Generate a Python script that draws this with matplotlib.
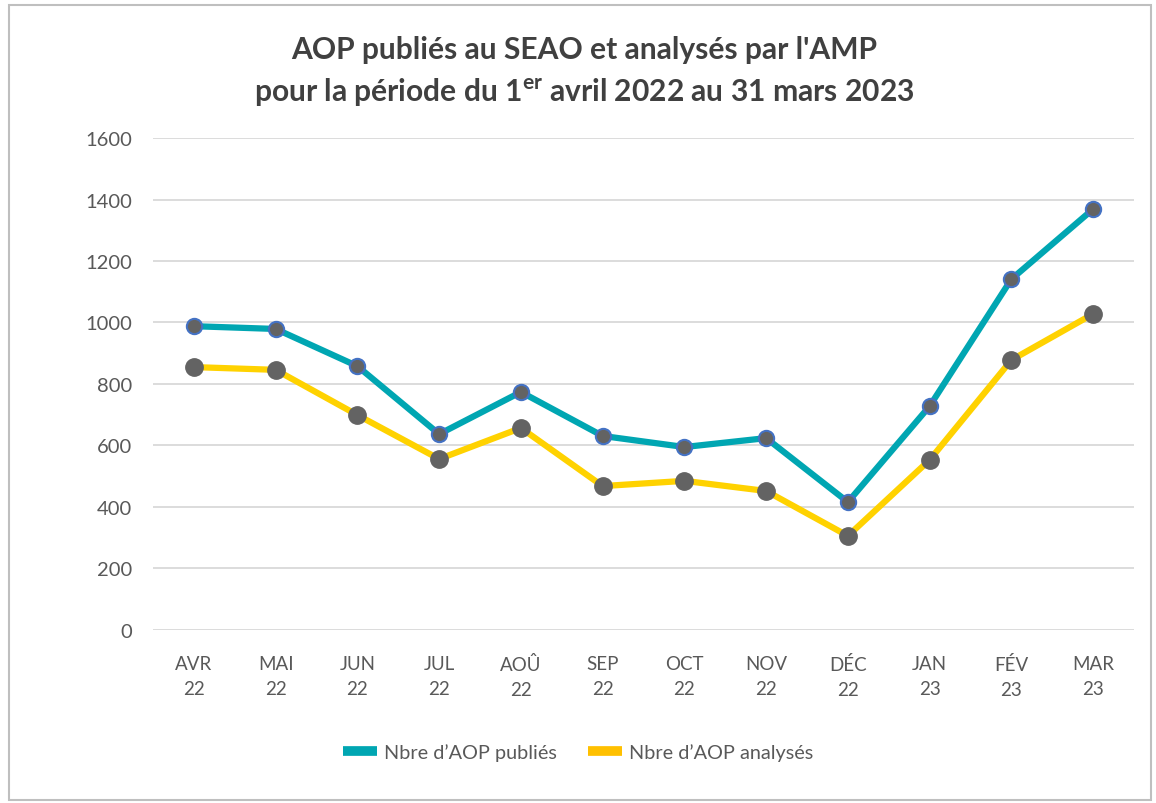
import matplotlib
matplotlib.use("Agg")
from matplotlib import pyplot as plt
from matplotlib.patches import Rectangle

# values
mois = ["AVR\n22", "MAI\n22", "JUN\n22", "JUL\n22", "AOÛ\n22", "SEP\n22",
        "OCT\n22", "NOV\n22", "DÉC\n22", "JAN\n23", "FÉV\n23", "MAR\n23"]
publies = [988, 979, 858, 637, 774, 631, 595, 624, 416, 728, 1141, 1369]
analyses = [855, 846, 699, 556, 657, 468, 485, 452, 306, 553, 878, 1028]

plt.rcParams['font.family'] = ['Lato', 'DejaVu Sans']
plt.rcParams['mathtext.fontset'] = 'custom'
plt.rcParams['mathtext.rm'] = 'Lato'
plt.rcParams['mathtext.bf'] = 'Lato:bold'

teal = "#00A6B2"
jaune = "#FFD200"
gris = "#636363"
txt = "#595959"

fig = plt.figure(figsize=(11.56, 8.04), dpi=100)
ax = fig.add_axes([0.1324, 0.2152, 0.981 - 0.1324, 0.8271 - 0.2152])

x = range(len(mois))
ax.plot(x, publies, color=teal, lw=4.5, marker="o", ms=11,
        mfc=gris, mec="#4472C4", mew=1.5, label="Nbre d\u2019AOP publiés", zorder=3)
ax.plot(x, analyses, color=jaune, lw=4.5, marker="o", ms=12.5,
        mfc=gris, mec=gris, label="Nbre d\u2019AOP analysés", zorder=3)

ax.set_xlim(-0.5, len(mois) - 0.5)
ax.set_ylim(0, 1600)
ax.set_yticks(range(0, 1601, 200))
ax.set_xticks(list(x))
ax.set_xticklabels(mois, linespacing=1.6)
ax.tick_params(axis="both", length=0, labelsize=13.5, colors=txt)
ax.tick_params(axis="y", pad=15, labelsize=14.5)
ax.tick_params(axis="x", pad=18)
ax.grid(axis="y", color="#D9D9D9", lw=1.3)
ax.set_axisbelow(True)
for s in ax.spines.values():
    s.set_visible(False)

fig.text(0.505, 0.938, "AOP publiés au SEAO et analysés par l'AMP",
         ha="center", va="center", fontsize=21.6, fontweight="bold", color="#404040")
fig.text(0.505, 0.884, r"pour la période du 1$^{\mathbf{er}}$ avril 2022 au 31 mars 2023",
         ha="center", va="center", fontsize=21.6, fontweight="bold", color="#404040")

# legend with rectangular swatches
leg = ax.legend(handles=[plt.Line2D([], [], color=teal, lw=7, solid_capstyle="butt"),
                         plt.Line2D([], [], color="#FFC000", lw=7, solid_capstyle="butt")],
                labels=["Nbre d\u2019AOP publiés", "Nbre d\u2019AOP analysés"],
                loc="center", bbox_to_anchor=(0.5, 0.063), bbox_transform=fig.transFigure,
                ncol=2, frameon=False, fontsize=14.3, handlelength=1.7,
                handletextpad=0.35, columnspacing=1.6)
for t in leg.get_texts():
    t.set_color(txt)

# outer chart border
fig.patches.append(Rectangle((0.0075, 0.004), 0.988, 0.988, transform=fig.transFigure,
                             fill=False, ec="#BFBFBF", lw=1.5))

fig.savefig("out.png", dpi=100)
